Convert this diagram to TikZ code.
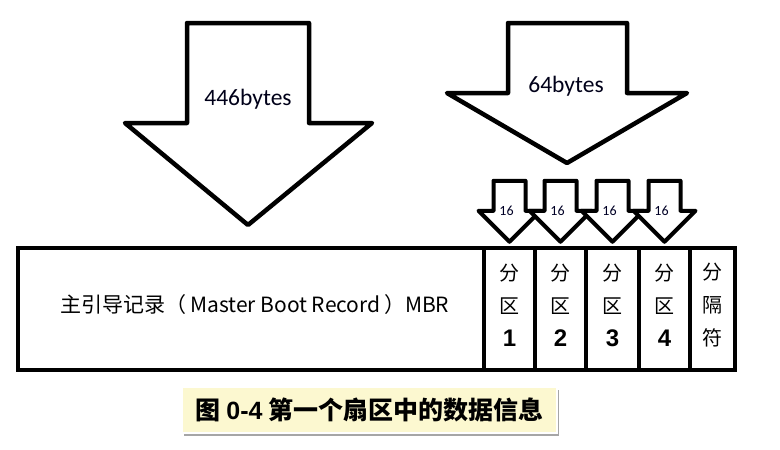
\documentclass[tikz,border=0pt]{standalone}
\usepackage{fontspec}
\setmainfont{Liberation Sans}
\newfontfamily\cjk{Noto Sans CJK SC}
\newfontfamily\calibri{Carlito}
\usetikzlibrary{positioning,shadows}
\definecolor{notepaper}{HTML}{FCF8D0}

\begin{document}
\begin{tikzpicture}[x=1pt,y=-1pt,
  cellbox/.style={draw=black, fill=white, line width=4.5pt, inner sep=0pt, minimum height=122},
  cellnote/.style={align=center, font=\fontsize{20}{33}\selectfont},
  bigarrow/.style={draw=black, fill=white, line width=4.5pt, line join=round},
  smallarrow/.style={draw=black, fill=white, line width=4pt, line join=round},
  bytelabel/.style={font=\calibri\fontsize{23.5}{26}\selectfont, text=black!90!blue}]
\useasboundingbox (0,0) rectangle (780,450);
% sector cells
\node[cellbox, minimum width=466] (mbrcell) at (251,309) {};
\node[cellbox, minimum width=51] (part1) at (509.5,309) {};
\node[cellbox, minimum width=51] (part2) at (560.5,309) {};
\node[cellbox, minimum width=53] (part3) at (612.5,309) {};
\node[cellbox, minimum width=51] (part4) at (664.5,309) {};
\node[cellbox, minimum width=45] (sepcell) at (712.5,309) {};
\node[font=\cjk\fontsize{21}{24}\selectfont] (mbrtext) at ([xshift=4pt,yshift=4pt]mbrcell.center) {主引导记录（\,Master Boot Record\,）MBR};
\foreach \i in {1,...,4}
  \node[cellnote] (note\i) at ([yshift=4pt]part\i.center) {\cjk 分\\\cjk 区\\\fontsize{24}{33}\selectfont\bfseries \i};
\node[cellnote, font=\cjk\fontsize{20}{33}\selectfont] (septext) at ([yshift=4pt]sepcell.center) {分\\隔\\符};
% big arrows
\draw[bigarrow] (187,23) -- (309,23) -- (309,123) -- (372,123) -- (248,225) -- (125,123) -- (187,123) -- cycle;
\node[bytelabel] (mbrsize) at (248,99) {446bytes};
\draw[bigarrow] (508,23) -- (627,23) -- (627,93) -- (687,93) -- (567,163) -- (447,93) -- (508,93) -- cycle;
\node[bytelabel] (tablesize) at (566,86) {64bytes};
% small arrows
\foreach \i in {1,...,4}{
  \draw[smallarrow] ([yshift=4pt]part\i.north) -- ++(31,-31) -- ++(-15,0) -- ++(0,-30) -- ++(-32,0) -- ++(0,30) -- ++(-15,0) -- cycle;
  \node[font=\calibri\fontsize{14}{16}\selectfont, text=black!85!blue] (size\i) at ([xshift=-3pt,yshift=35pt]part\i.north) {16};
}
% caption
\node[draw=white, line width=2pt, fill=notepaper, minimum width=375, minimum height=46,
  drop shadow={shadow xshift=2pt, shadow yshift=-3pt, fill=black, opacity=0.35},
  font=\cjk\bfseries\fontsize{25}{28}\selectfont] (caption) at (369.5,410) {图 {\rmfamily\bfseries 0-4} 第一个扇区中的数据信息};
\end{tikzpicture}
\end{document}
